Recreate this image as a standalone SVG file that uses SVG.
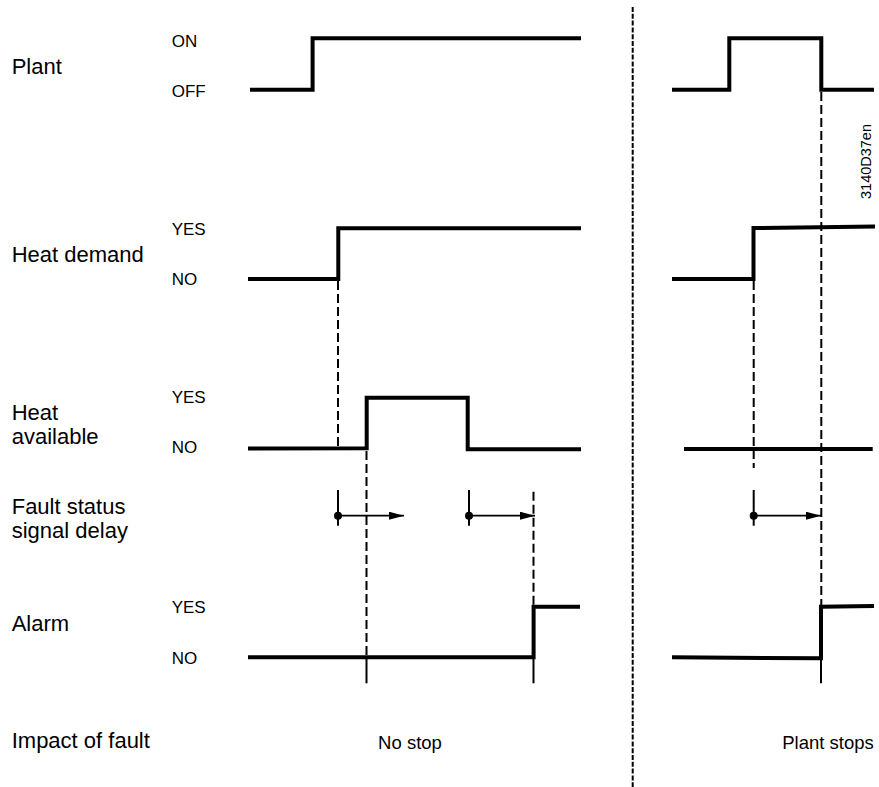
<svg xmlns="http://www.w3.org/2000/svg" width="879" height="787" viewBox="0 0 879 787">
<style>
  .lbl { font-family: "Liberation Sans", Arial, sans-serif; font-size: 22px; fill: #000; }
  .st { font-family: "Liberation Sans", Arial, sans-serif; font-size: 17px; fill: #000; }
  .imp { font-family: "Liberation Sans", Arial, sans-serif; font-size: 18.5px; fill: #000; }
  .code { font-family: "Liberation Sans", Arial, sans-serif; font-size: 14.5px; fill: #000; }
  .wave { fill: none; stroke: #000; stroke-width: 4; stroke-linejoin: miter; stroke-linecap: butt; }
  .dash { fill: none; stroke: #000; stroke-width: 2; stroke-dasharray: 9,4; }
  .tick { fill: none; stroke: #000; stroke-width: 2; }
  .arr { fill: none; stroke: #000; stroke-width: 1.8; marker-end: url(#ah); }
  .div { fill: none; stroke: #000; stroke-width: 2; stroke-dasharray: 5,1.8; }
</style>
<defs>
  <marker id="ah" markerUnits="userSpaceOnUse" markerWidth="16" markerHeight="10" refX="15" refY="4" orient="auto">
    <path d="M0,0 L15,4 L0,8 Z" fill="#000"/>
  </marker>
</defs>
<rect width="879" height="787" fill="#fff"/>

<g id="divider">
  <line class="div" x1="632.7" y1="7" x2="632.7" y2="787"/>
</g>

<g id="plant">
  <text class="lbl" x="11.7" y="74">Plant</text>
  <text class="st" x="171.7" y="46.7">ON</text>
  <text class="st" x="171.7" y="96.7">OFF</text>
  <path class="wave" d="M250,89.7 H312.6 V38.3 H581"/>
  <path class="wave" d="M672,89.7 H729.3 V38.3 H821.3 V89.7 H874"/>
</g>

<g id="heat-demand">
  <text class="lbl" x="11.7" y="262.3">Heat demand</text>
  <text class="st" x="171.7" y="235">YES</text>
  <text class="st" x="171.7" y="285">NO</text>
  <path class="wave" d="M248,279 H338.3 V228.3 H581"/>
  <path class="wave" d="M672,279 H753.5 V228.1 L875,226.6"/>
</g>

<g id="heat-available">
  <text class="lbl" x="11.7" y="420">Heat</text>
  <text class="lbl" x="11.7" y="444">available</text>
  <text class="st" x="171.7" y="402.7">YES</text>
  <text class="st" x="171.7" y="453.3">NO</text>
  <path class="wave" d="M248,448.6 L366.7,448.3 V397.7 H467.7 V449.3 H581"/>
  <path class="wave" d="M684,449 H872.7"/>
</g>

<g id="fault-delay">
  <text class="lbl" x="11.7" y="514">Fault status</text>
  <text class="lbl" x="11.7" y="538.3">signal delay</text>
</g>

<g id="alarm">
  <text class="lbl" x="11.7" y="630.7">Alarm</text>
  <text class="st" x="171.7" y="613.3">YES</text>
  <text class="st" x="171.7" y="664.3">NO</text>
  <path class="wave" d="M248,657.3 H533.6 V606.7 H580"/>
  <path class="wave" d="M672,657.3 L821,658.3 V606.7 L874,606"/>
</g>

<g id="impact">
  <text class="lbl" x="11.7" y="748.3">Impact of fault</text>
  <text class="imp" x="410" y="749.3" text-anchor="middle">No stop</text>
  <text class="imp" x="828" y="749" text-anchor="middle">Plant stops</text>
</g>

<g id="code">
  <text class="code" transform="translate(870.5,199) rotate(-90)">3140D37en</text>
</g>

<g id="connectors">
  <!-- left section -->
  <line class="dash" x1="338" y1="281" x2="338" y2="449"/>
  <line class="tick" x1="338" y1="490" x2="338" y2="525.7"/>
  <line class="dash" x1="366.5" y1="451" x2="366.5" y2="657"/>
  <line class="tick" x1="366.5" y1="657" x2="366.5" y2="683.3"/>
  <line class="tick" x1="469" y1="490" x2="469" y2="525.7"/>
  <line class="dash" x1="533.5" y1="491.7" x2="533.5" y2="606"/>
  <line class="tick" x1="533.5" y1="657" x2="533.5" y2="683.3"/>
  <circle cx="338" cy="515.7" r="4"/>
  <line class="arr" x1="338" y1="515.7" x2="404" y2="515.7"/>
  <circle cx="469" cy="515.7" r="4"/>
  <line class="arr" x1="469" y1="515.7" x2="535" y2="515.7"/>
  <!-- right section -->
  <line class="dash" x1="821.3" y1="92" x2="821.3" y2="606"/>
  <line class="tick" x1="821" y1="658" x2="821" y2="683.3"/>
  <line class="dash" x1="753.7" y1="281" x2="753.7" y2="468"/>
  <line class="tick" x1="753.7" y1="490" x2="753.7" y2="525.7"/>
  <circle cx="753.7" cy="515.7" r="4"/>
  <line class="arr" x1="753.7" y1="515.7" x2="821" y2="515.7"/>
</g>
</svg>
